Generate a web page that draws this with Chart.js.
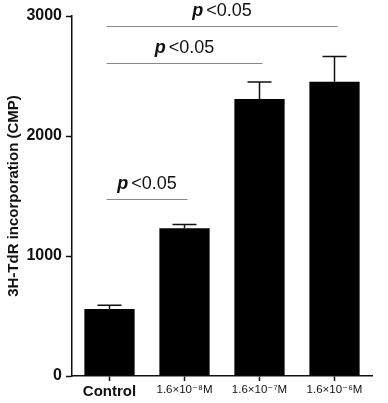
<!DOCTYPE html>
<html>
<head>
<meta charset="utf-8">
<script src="https://cdn.jsdelivr.net/npm/chart.js@4/dist/chart.umd.min.js"></script>
<style>
  body { margin: 0; background: #fff; }
  #wrap { width: 388px; height: 403px; }
</style>
</head>
<body>
<div id="wrap"><canvas id="grafico"></canvas></div>
<script>
// datos
const categorias = ["Control", "1.6×10⁻⁸M", "1.6×10⁻⁷M", "1.6×10⁻⁶M"];
const medias = [558, 1232, 2308, 2452];
const errores = [32, 30, 142, 210];
const yTicks = [0, 1000, 2000, 3000];

// comparaciones de significancia
const sigDesde = [0, 0, 0];
const sigHasta = [3, 2, 1];
const sigAltura = [2915, 2608, 1478];
const sigTexto = ["<0.05", "<0.05", "<0.05"];

const fuente = "'Liberation Sans', 'DejaVu Sans', sans-serif";

const barrasError = {
  id: "barrasError",
  afterDatasetsDraw(chart) {
    const ctx = chart.ctx;
    const y = chart.scales.y;
    const meta = chart.getDatasetMeta(0);
    ctx.save();
    ctx.strokeStyle = "#111";
    ctx.lineWidth = 1.5;
    meta.data.forEach((bar, i) => {
      const top = y.getPixelForValue(medias[i] + errores[i]);
      ctx.beginPath();
      ctx.moveTo(bar.x, bar.y);
      ctx.lineTo(bar.x, top);
      ctx.moveTo(bar.x - 12, top);
      ctx.lineTo(bar.x + 12, top);
      ctx.stroke();
    });
    ctx.restore();
  },
};

const significancia = {
  id: "significancia",
  afterDraw(chart) {
    const ctx = chart.ctx;
    const x = chart.scales.x;
    const y = chart.scales.y;
    ctx.save();
    sigDesde.forEach((d, i) => {
      const x1 = x.getPixelForValue(d) - 3;
      const x2 = x.getPixelForValue(sigHasta[i]) + 3;
      const py = Math.round(y.getPixelForValue(sigAltura[i])) + 0.5;
      ctx.strokeStyle = "#888";
      ctx.lineWidth = 1;
      ctx.beginPath();
      ctx.moveTo(x1, py);
      ctx.lineTo(x2, py);
      ctx.stroke();

      ctx.fillStyle = "#111";
      ctx.textBaseline = "alphabetic";
      ctx.font = "italic bold 18px " + fuente;
      const wp = ctx.measureText("p").width;
      ctx.font = "18px " + fuente;
      const wr = ctx.measureText(sigTexto[i]).width;
      const total = wp + 3 + wr;
      const cx = (x1 + x2) / 2 - total / 2;
      ctx.textAlign = "left";
      ctx.font = "italic bold 18px " + fuente;
      ctx.fillText("p", cx, py - 11);
      ctx.font = "18px " + fuente;
      ctx.fillText(sigTexto[i], cx + wp + 3, py - 11);
    });
    ctx.restore();
  },
};

const ctx = document.getElementById("grafico").getContext("2d");
new Chart(ctx, {
  type: "bar",
  data: {
    labels: categorias,
    datasets: [
      {
        data: medias,
        backgroundColor: "#000",
        borderWidth: 0,
        categoryPercentage: 1,
        barPercentage: 0.67,
      },
    ],
  },
  options: {
    responsive: true,
    maintainAspectRatio: false,
    animation: false,
    layout: { padding: { top: 16, right: 16, left: 0, bottom: 0 } },
    plugins: { legend: { display: false }, tooltip: { enabled: false } },
    scales: {
      x: {
        grid: {
          display: true,
          drawOnChartArea: false,
          drawTicks: true,
          offset: false,
          tickLength: 5,
          tickColor: "#111",
          tickWidth: 1.5,
        },
        border: { color: "#111", width: 1.5 },
        ticks: {
          color: "#111",
          padding: 2,
          maxRotation: 0,
          autoSkip: false,
          font: (c) =>
            c.index === 0
              ? { family: fuente, size: 15, weight: "bold" }
              : { family: fuente, size: 11.5 },
        },
        afterFit(scale) {
          scale.height = 27;
        },
      },
      y: {
        min: 0,
        max: 3000,
        afterBuildTicks(scale) {
          scale.ticks = yTicks.map((v) => ({ value: v }));
        },
        grid: {
          display: true,
          drawOnChartArea: false,
          drawTicks: true,
          tickLength: 6,
          tickColor: "#111",
          tickWidth: 1.5,
        },
        border: { color: "#111", width: 1.5 },
        ticks: {
          color: "#111",
          padding: 4,
          callback: (v) => String(v),
          font: { family: fuente, size: 16, weight: "bold" },
        },
        title: {
          display: true,
          text: "3H-TdR incorporation (CMP)",
          color: "#111",
          padding: { top: 5, bottom: 2 },
          font: { family: fuente, size: 15, weight: "bold" },
        },
        afterFit(scale) {
          scale.width = 72;
        },
      },
    },
  },
  plugins: [barrasError, significancia],
});
</script>
</body>
</html>
